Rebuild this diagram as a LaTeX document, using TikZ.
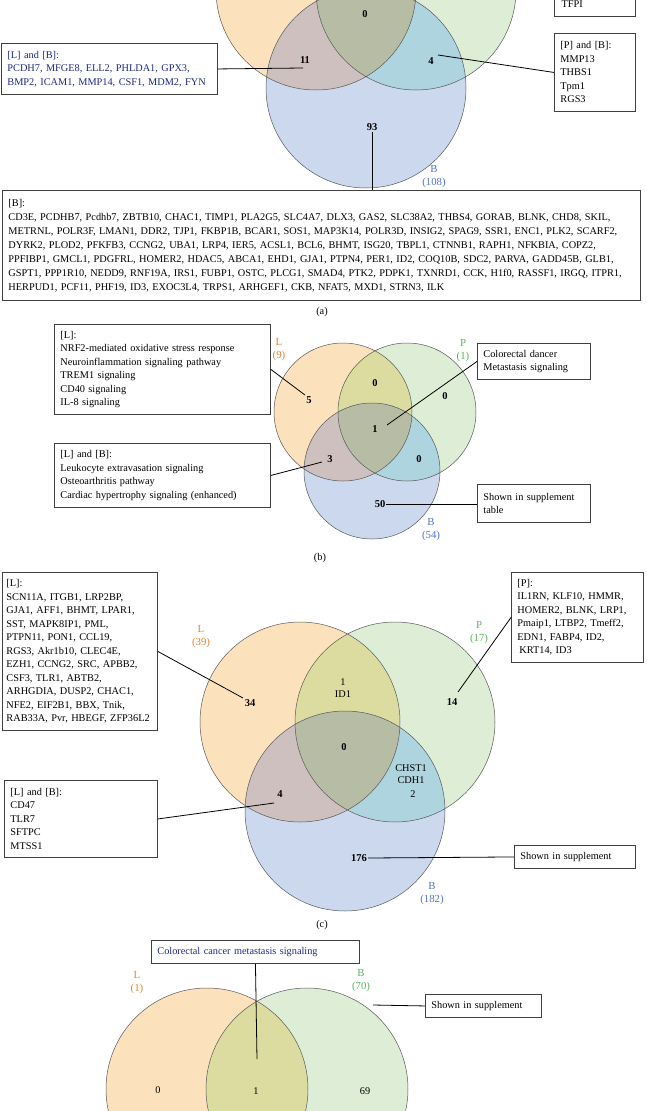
\documentclass[tikz,border=0pt]{standalone}
\usepackage{fontspec}
\setmainfont{Liberation Serif}
\usepackage{tikz}

\definecolor{lcol}{HTML}{FCE2BC}
\definecolor{pcol}{HTML}{DDEDD6}
\definecolor{bcol}{HTML}{CBD8EE}
\definecolor{lpcol}{HTML}{DDDCA0}
\definecolor{lbcol}{HTML}{CEC0BE}
\definecolor{pbcol}{HTML}{AED4E0}
\definecolor{lpbcol}{HTML}{B7BDA5}
\definecolor{ltext}{HTML}{E8822E}
\definecolor{ptext}{HTML}{5DB35D}
\definecolor{btext}{HTML}{5573C5}
\definecolor{navy}{HTML}{1F2A80}

\newcommand{\boxfont}{\fontsize{10.3}{13.5}\selectfont}
\newcommand{\tripleset}[3]{%
  \fill[lcol] #1; \fill[pcol] #2; \fill[bcol] #3;
  \begin{scope} \clip #1; \fill[lpcol] #2; \fill[lbcol] #3; \end{scope}
  \begin{scope} \clip #2; \fill[pbcol] #3; \end{scope}
  \begin{scope} \clip #1; \clip #2; \fill[lpbcol] #3; \end{scope}
  \draw[ring] #1 #2 #3;}

\begin{document}
\begin{tikzpicture}[x=1pt, y=-1pt,
  ring/.style={draw=black!65, line width=0.5pt},
  box/.style={draw=black!75, line width=0.9pt, fill=white, align=left,
    anchor=north west, inner xsep=6pt, inner ysep=0pt, font=\boxfont},
  num/.style={font=\fontsize{10.5}{12}\selectfont\bfseries, inner sep=1pt},
  gene/.style={font=\fontsize{10.3}{12.5}\selectfont, align=center, inner sep=1pt},
  lab/.style={font=\fontsize{10.8}{13}\selectfont, align=center, inner sep=0pt},
  lead/.style={black, line width=0.8pt}]

\useasboundingbox (0,0) rectangle (646,1111);
\clip (0,0) rectangle (646,1111);

\tripleset{(316,-10) circle (100pt)}{(416,-10) circle (100pt)}{(366,88) circle (100pt)}

\node[num] (a0) at (365,14) {0};
\node[num] (a11) at (305,60) {11};
\node[num] (a4) at (431,61) {4};
\node[num] (a93) at (372,127) {93};

\draw[draw=black!75, line width=0.9pt] (554,-60) rectangle (635,16);
\node[anchor=west, font=\boxfont] (atfpi) at (558,4) {TFPI};

\node[box, text=navy, text width=204pt, minimum height=51pt] (albox) at (1,43)
  {[L] and [B]:\\PCDH7, MFGE8, ELL2, PHLDA1, GPX3,\\BMP2, ICAM1, MMP14, CSF1, MDM2, FYN};
\node[box, text width=69pt, minimum height=78pt] (apbbox) at (554,33)
  {[P] and [B]:\\MMP13\\THBS1\\Tpm1\\RGS3};
\node[box, text width=626pt, minimum height=110pt, font=\fontsize{10.3}{14}\selectfont] (abbox) at (2,190)
  {[B]:\\
   CD3E, PCDHB7, Pcdhb7, ZBTB10, CHAC1, TIMP1, PLA2G5, SLC4A7, DLX3, GAS2, SLC38A2, THBS4, GORAB, BLNK, CHD8, SKIL,\\
   METRNL, POLR3F, LMAN1, DDR2, TJP1, FKBP1B, BCAR1, SOS1, MAP3K14, POLR3D, INSIG2, SPAG9, SSR1, ENC1, PLK2, SCARF2,\\
   DYRK2, PLOD2, PFKFB3, CCNG2, UBA1, LRP4, IER5, ACSL1, BCL6, BHMT, ISG20, TBPL1, CTNNB1, RAPH1, NFKBIA, COPZ2,\\
   PPFIBP1, GMCL1, PDGFRL, HOMER2, HDAC5, ABCA1, EHD1, GJA1, PTPN4, PER1, ID2, COQ10B, SDC2, PARVA, GADD45B, GLB1,\\
   GSPT1, PPP1R10, NEDD9, RNF19A, IRS1, FUBP1, OSTC, PLCG1, SMAD4, PTK2, PDPK1, TXNRD1, CCK, H1f0, RASSF1, IRGQ, ITPR1,\\
   HERPUD1, PCF11, PHF19, ID3, EXOC3L4, TRPS1, ARHGEF1, CKB, NFAT5, MXD1, STRN3, ILK};
\node[lab, text=btext] (aB) at (434,177) {B\\(108)};

\coordinate (a11end) at (303,68);
\coordinate (a4end) at (438,55);
\draw[lead] (albox.east) -- (a11end);
\draw[lead] (a4end) -- (apbbox.west);
\draw[lead] (a93.south) -- (a93.south |- abbox.north);
\node[font=\boxfont] (acap) at (322,312) {(a)};

\tripleset{(343,412) circle (69pt)}{(407,412) circle (69pt)}{(372,471) circle (68pt)}

\node[num] (b0t) at (375,383) {0};
\node[num] (b5) at (309,400) {5};
\node[num] (b1) at (375,429) {1};
\node[num] (b0r) at (445,396) {0};
\node[num] (b3) at (330,459) {3};
\node[num] (b0b) at (419,459) {0};
\node[num] (b50) at (380,504) {50};

\node[box, text width=204pt, minimum height=90pt] (blbox) at (54,324)
  {[L]:\\NRF2-mediated oxidative stress response\\Neuroinflammation signaling pathway\\TREM1 signaling\\CD40 signaling\\IL-8 signaling};
\node[box, text width=101pt, minimum height=36pt] (bcrc) at (477,343)
  {Colorectal dancer\\Metastasis signaling};
\node[box, text width=204pt, minimum height=64pt] (blbbox) at (54,443)
  {[L] and [B]:\\Leukocyte extravasation signaling\\Osteoarthritis pathway\\Cardiac hypertrophy signaling (enhanced)};
\node[box, text width=101pt, minimum height=38pt] (bsup) at (477,484)
  {Shown in supplement\\table};
\node[lab, text=ltext] (bL) at (279,350) {L\\(9)};
\node[lab, text=ptext] (bP) at (463,351) {P\\(1)};
\node[lab, text=btext] (bB) at (431,530) {B\\(54)};

\coordinate (b5end) at (305,395);
\coordinate (b1end) at (387,425);
\coordinate (b3end) at (322,462);
\draw[lead] (b5end) -- (blbox.east);
\draw[lead] (b1end) -- (bcrc.west);
\draw[lead] (b3end) -- (blbbox.east);
\draw[lead] (b50.east) -- (b50.east -| bsup.west);
\node[font=\boxfont] (bcap) at (320,558) {(b)};

\tripleset{(300,722) circle (100pt)}{(395,722) circle (100pt)}{(345,811) circle (100pt)}

\node[num] (c34) at (250,703) {34};
\node[gene] (c1) at (343,688) {1\\ID1};
\node[num] (c14) at (452,702) {14};
\node[num] (c0) at (344,747) {0};
\node[gene] (cchst) at (411,774) {CHST1\\CDH1};
\node[gene] (c2) at (413,794) {2};
\node[num] (c4) at (280,794) {4};
\node[num] (c176) at (359,858) {176};

\node[box, inner xsep=4pt, text width=147pt, minimum height=158pt] (clbox) at (2,572)
  {[L]:\\SCN11A, ITGB1, LRP2BP,\\GJA1, AFF1, BHMT, LPAR1,\\SST, MAPK8IP1, PML,\\PTPN11, PON1, CCL19,\\RGS3, Akr1b10, CLEC4E,\\EZH1, CCNG2, SRC, APBB2,\\CSF3, TLR1, ABTB2,\\ARHGDIA, DUSP2, CHAC1,\\NFE2, EIF2B1, BBX, Tnik,\\RAB33A, Pvr, HBEGF, ZFP36L2};
\node[box, text width=120pt, minimum height=90pt] (cpbox) at (511,572)
  {[P]:\\IL1RN, KLF10, HMMR,\\HOMER2, BLNK, LRP1,\\Pmaip1, LTBP2, Tmeff2,\\EDN1, FABP4, ID2,\\\hspace{2pt}KRT14, ID3};
\node[box, text width=141pt, minimum height=77pt] (clbbox) at (4,780)
  {[L] and [B]:\\CD47\\TLR7\\SFTPC\\MTSS1};
\node[box, text width=109pt, minimum height=23pt] (csup) at (514,845)
  {Shown in supplement};
\node[lab, text=ltext] (cL) at (201,637) {L\\(39)};
\node[lab, text=ptext] (cP) at (479,633) {P\\(17)};
\node[lab, text=btext] (cB) at (432,894) {B\\(182)};

\coordinate (c34end) at (243,698);
\coordinate (c14end) at (458,692);
\coordinate (c4end) at (274,803);
\draw[lead] (c34end) -- (clbox.east);
\draw[lead] (c14end) -- (cpbox.west);
\draw[lead] (c4end) -- (clbbox.east);
\draw[lead] (c176.east) -- (csup.west);
\node[font=\boxfont] (ccap) at (322,925) {(c)};

\fill[lcol] (207,1089) circle (101pt);
\fill[pcol] (307,1089) circle (101pt);
\begin{scope}
  \clip (207,1089) circle (101pt);
  \fill[lpcol] (307,1089) circle (101pt);
\end{scope}
\draw[ring] (207,1089) circle (101pt) (307,1089) circle (101pt);

\node[gene] (d0) at (158,1090) {0};
\node[gene] (d1) at (256,1091) {1};
\node[gene] (d69) at (365,1091) {69};

\node[box, text=navy, text width=196pt, minimum height=23pt] (dcrc) at (151,940)
  {Colorectal cancer metastasis signaling};
\node[box, text width=104pt, minimum height=23pt] (dsup) at (425,994)
  {Shown in supplement};
\node[lab, text=ltext] (dL) at (137,983) {L\\(1)};
\node[lab, text=ptext] (dB) at (361,981) {B\\(70)};

\coordinate (d1end) at (257,1059);
\coordinate (d69end) at (373,1005);
\draw[lead] (dcrc.south) -- (d1end);
\draw[lead] (d69end) -- (dsup.west);

\end{tikzpicture}
\end{document}
